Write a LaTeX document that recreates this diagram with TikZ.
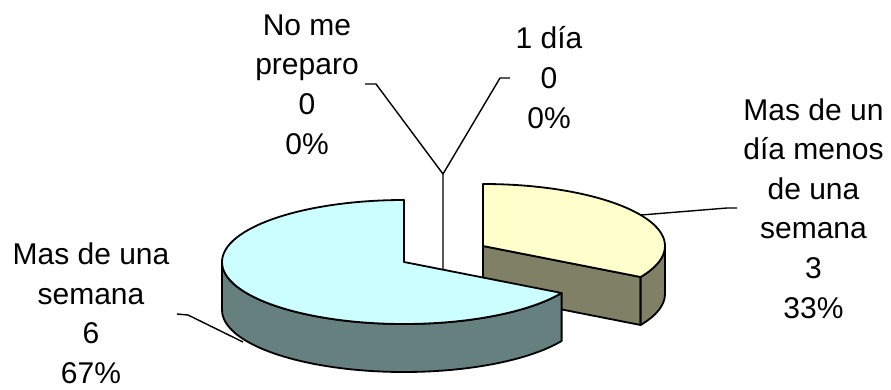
\documentclass[tikz,border=0pt]{standalone}
\usepackage{fontspec}
\setmainfont{Liberation Sans}
\definecolor{bluetop}{RGB}{204,255,255}
\definecolor{blueside}{RGB}{102,128,128}
\definecolor{yellowtop}{RGB}{255,255,204}
\definecolor{yellowside}{RGB}{128,128,102}
\begin{document}
\begin{tikzpicture}[x=1pt,y=1pt,
    lbl/.style={font=\fontsize{30}{39.6}\selectfont, align=center, inner sep=0pt, anchor=base},
    slice/.style={draw=black, line width=1.8pt, line join=round},
    leader/.style={draw=black, line width=1.4pt}]
    \useasboundingbox (0,0) rectangle (891,389);

    % pulled out slice (33%)
    \filldraw[slice, fill=yellowside] (483,143) -- (640.6,112) -- (640.6,64) -- (483,95) -- cycle;
    \filldraw[slice, fill=yellowside] (665,143) arc[start angle=0, end angle=-30, x radius=182, y radius=62]
        -- ++(0,-48) arc[start angle=-30, end angle=0, x radius=182, y radius=62] -- cycle;
    \filldraw[slice, fill=yellowtop] (483,143) -- (483,205) arc[start angle=90, end angle=-30, x radius=182, y radius=62] -- cycle;

    % big slice (67%)
    \filldraw[slice, fill=blueside] (222,127) arc[start angle=180, end angle=330, x radius=182, y radius=62]
        -- ++(0,-48) arc[start angle=330, end angle=180, x radius=182, y radius=62] -- cycle;
    \filldraw[slice, fill=bluetop] (404,127) -- (404,189) arc[start angle=90, end angle=330, x radius=182, y radius=62] -- cycle;

    % labels (anchored on the last line)
    \node[lbl] (nome) at (307,235) {No me\\preparo\\0\\0\%};
    \node[lbl] (unodia) at (549,261) {1 día\\0\\0\%};
    \node[lbl] (menossemana) at (813.5,71) {Mas de un\\día menos\\de una\\semana\\3\\33\%};
    \node[lbl] (massemana) at (91,5.5) {Mas de una\\semana\\6\\67\%};

    % leader lines
    \coordinate (nome-a) at (365,305);
    \coordinate (nome-b) at (376,305);
    \coordinate (unodia-a) at (510,311);
    \coordinate (unodia-b) at (500,311);
    \coordinate (fork) at (443,215);
    \coordinate (fork-end) at (443,120);
    \coordinate (menos-a) at (737,181);
    \coordinate (menos-b) at (727,181);
    \coordinate (menos-end) at (641,174);
    \coordinate (mas-a) at (177,75);
    \coordinate (mas-b) at (188,74);
    \coordinate (mas-end) at (243,47);
    \draw[leader] (nome-a) -- (nome-b) -- (fork) -- (fork-end);
    \draw[leader] (unodia-a) -- (unodia-b) -- (fork);
    \draw[leader] (menos-a) -- (menos-b) -- (menos-end);
    \draw[leader] (mas-a) -- (mas-b) -- (mas-end);
\end{tikzpicture}
\end{document}
